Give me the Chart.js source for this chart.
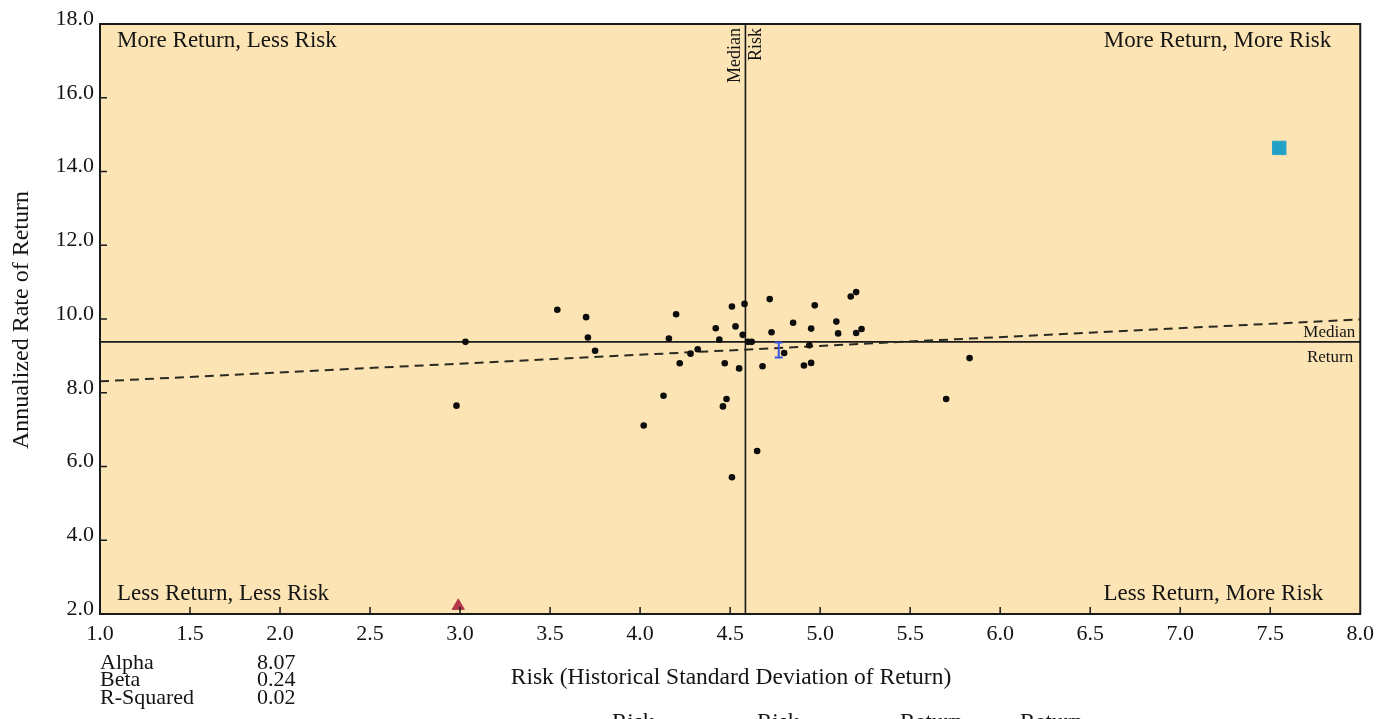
<!DOCTYPE html>
<html>
<head>
<meta charset="utf-8">
<script src="https://cdn.jsdelivr.net/npm/chart.js@4.4.1/dist/chart.umd.min.js"></script>
<style>
  html, body { margin: 0; padding: 0; background: #fff; }
  #wrap { width: 1381px; height: 719px; position: relative; overflow: hidden; }
</style>
</head>
<body>
<div id="wrap"><canvas id="chart" width="1381" height="719"></canvas></div>
<script>
// Manager points (risk, return)
const riskValues = [
  3.54, 3.70, 3.71, 3.75, 3.03, 2.98, 4.20, 4.16, 4.22, 4.28, 4.32, 4.13,
  4.02, 4.42, 4.44, 4.47, 4.51, 4.53, 4.58, 4.57, 4.60, 4.62, 4.55, 4.48,
  4.46, 4.65, 4.51, 4.72, 4.73, 4.68, 4.80, 4.85, 4.97, 4.95, 4.94, 4.91,
  4.95, 5.09, 5.10, 5.17, 5.20, 5.20, 5.23, 5.83, 5.70
];
const returnValues = [
  10.25, 10.05, 9.50, 9.14, 9.38, 7.65, 10.13, 9.47, 8.80, 9.06, 9.18, 7.92,
  7.11, 9.75, 9.44, 8.80, 10.34, 9.80, 10.41, 9.57, 9.38, 9.38, 8.66, 7.83,
  7.63, 6.42, 5.71, 10.54, 9.64, 8.72, 9.08, 9.90, 10.37, 9.74, 9.29, 8.74,
  8.81, 9.93, 9.61, 10.61, 10.73, 9.62, 9.73, 8.94, 7.83
];

// special markers
const squarePoint = [7.55, 14.64];
const trianglePoint = [2.99, 2.22];
const beamPoint = [4.77, 9.16];

// medians and regression line
const medianRisk = 4.585;
const medianReturn = 9.38;
const regressionX = [1.0, 8.0];
const regressionY = [8.31, 9.99];

const xTicks = [1.0, 1.5, 2.0, 2.5, 3.0, 3.5, 4.0, 4.5, 5.0, 5.5, 6.0, 6.5, 7.0, 7.5, 8.0];
const yTicks = [2, 4, 6, 8, 10, 12, 14, 16, 18];

const statLabels = ['Alpha', 'Beta', 'R-Squared'];
const statValues = ['8.07', '0.24', '0.02'];

const SERIF = '"Liberation Serif", "Times New Roman", serif';
const INK = '#141414';

// small blue I-beam marker
function makeBeam() {
  const c = document.createElement('canvas');
  c.width = 10; c.height = 18;
  const g = c.getContext('2d');
  g.strokeStyle = '#3a55e0';
  g.lineWidth = 2;
  g.beginPath();
  g.moveTo(5, 1); g.lineTo(5, 17);
  g.moveTo(1, 1.5); g.lineTo(9, 1.5);
  g.moveTo(1, 16.5); g.lineTo(9, 16.5);
  g.stroke();
  return c;
}

const quadrantPlugin = {
  id: 'quadrant',
  beforeDatasetsDraw(chart) {
    const { ctx, chartArea: a } = chart;
    ctx.save();
    ctx.fillStyle = '#fce4b4';
    ctx.fillRect(a.left, a.top, a.right - a.left, a.bottom - a.top);
    ctx.restore();
  },
  afterDraw(chart) {
    const { ctx, chartArea: a, scales } = chart;
    const xs = scales.x, ys = scales.y;
    ctx.save();

    // frame
    ctx.strokeStyle = '#1a1a1a';
    ctx.lineWidth = 2;
    ctx.strokeRect(a.left, a.top, a.right - a.left, a.bottom - a.top);

    // inner tick marks
    ctx.lineWidth = 1.5;
    ctx.beginPath();
    xTicks.slice(1, -1).forEach(v => {
      const px = xs.getPixelForValue(v);
      ctx.moveTo(px, a.bottom);
      ctx.lineTo(px, a.bottom - 7);
    });
    yTicks.slice(1, -1).forEach(v => {
      const py = ys.getPixelForValue(v);
      ctx.moveTo(a.left, py);
      ctx.lineTo(a.left + 7, py);
    });
    ctx.stroke();

    ctx.fillStyle = INK;

    // quadrant captions
    ctx.font = '23px ' + SERIF;
    ctx.textBaseline = 'middle';
    ctx.textAlign = 'left';
    ctx.fillText('More Return, Less Risk', a.left + 17, a.top + 17);
    ctx.fillText('Less Return, Less Risk', a.left + 17, a.bottom - 20);
    ctx.textAlign = 'right';
    ctx.fillText('More Return, More Risk', a.right - 29, a.top + 17);
    ctx.fillText('Less Return, More Risk', a.right - 37, a.bottom - 20);

    // median labels
    const mx = xs.getPixelForValue(medianRisk);
    const my = ys.getPixelForValue(medianReturn);
    ctx.font = '18px ' + SERIF;
    ctx.save();
    ctx.translate(mx, a.top + 4);
    ctx.rotate(-Math.PI / 2);
    ctx.textAlign = 'right';
    ctx.textBaseline = 'bottom';
    ctx.fillText('Median', 0, -1);
    ctx.textBaseline = 'top';
    ctx.fillText('Risk', 0, 2);
    ctx.restore();

    ctx.font = '17px ' + SERIF;
    ctx.textAlign = 'right';
    ctx.textBaseline = 'bottom';
    ctx.fillText('Median', a.right - 5, my - 1);
    ctx.textBaseline = 'top';
    ctx.fillText('Return', a.right - 7, my + 7);

    // axis titles
    ctx.font = '23.5px ' + SERIF;
    ctx.textAlign = 'center';
    ctx.textBaseline = 'middle';
    ctx.fillText('Risk (Historical Standard Deviation of Return)', 731, 678);
    ctx.save();
    ctx.font = '24px ' + SERIF;
    ctx.translate(22, 320);
    ctx.rotate(-Math.PI / 2);
    ctx.fillText('Annualized Rate of Return', 0, 0);
    ctx.restore();

    // stats block
    ctx.font = '22px ' + SERIF;
    ctx.textAlign = 'left';
    statLabels.forEach((s, i) => {
      ctx.fillText(s, 100, 663 + i * 17.5);
      ctx.fillText(statValues[i], 257, 663 + i * 17.5);
    });

    // cut-off legend header at the bottom edge
    ctx.font = '23px ' + SERIF;
    ctx.textBaseline = 'alphabetic';
    ctx.fillText('Risk', 612, 729);
    ctx.fillText('Risk', 757, 729);
    ctx.fillText('Return', 900, 729);
    ctx.fillText('Return', 1020, 729);

    ctx.restore();
  }
};

const managerPoints = riskValues.map((r, i) => ({ x: r, y: returnValues[i] }));

new Chart(document.getElementById('chart'), {
  type: 'scatter',
  data: {
    datasets: [
      {
        label: 'Managers',
        data: managerPoints,
        backgroundColor: '#0d0d0d',
        borderWidth: 0,
        pointRadius: 3.3,
        order: 1,
      },
      {
        label: 'Index',
        data: [{ x: squarePoint[0], y: squarePoint[1] }],
        pointStyle: 'rect',
        backgroundColor: '#22a0c6',
        borderColor: '#2aa6c8',
        borderWidth: 1,
        pointRadius: 9.5,
        order: 0,
      },
      {
        label: 'Benchmark',
        data: [{ x: trianglePoint[0], y: trianglePoint[1] }],
        pointStyle: 'triangle',
        backgroundColor: '#b3384a',
        borderColor: '#b3384a',
        borderWidth: 1,
        pointRadius: 7,
        order: 0,
      },
      {
        label: 'Fund',
        data: [{ x: beamPoint[0], y: beamPoint[1] }],
        pointStyle: makeBeam(),
        pointRadius: 9,
        order: 0,
      },
      {
        label: 'Regression',
        data: regressionX.map((x, i) => ({ x, y: regressionY[i] })),
        showLine: true,
        borderColor: '#2b2a22',
        borderWidth: 2,
        borderDash: [9, 6],
        pointRadius: 0,
        order: 3,
      },
      {
        label: 'Median Risk',
        data: [{ x: medianRisk, y: 2 }, { x: medianRisk, y: 18 }],
        showLine: true,
        borderColor: '#1a1a1a',
        borderWidth: 1.6,
        pointRadius: 0,
        order: 4,
      },
      {
        label: 'Median Return',
        data: [{ x: 1, y: medianReturn }, { x: 8, y: medianReturn }],
        showLine: true,
        borderColor: '#1a1a1a',
        borderWidth: 1.6,
        pointRadius: 0,
        order: 4,
      },
    ],
  },
  options: {
    responsive: false,
    animation: false,
    layout: { padding: { left: 0, right: 17, top: 24, bottom: 0 } },
    plugins: { legend: { display: false }, tooltip: { enabled: false } },
    scales: {
      x: {
        type: 'linear',
        min: 1, max: 8,
        afterBuildTicks: s => { s.ticks = xTicks.map(v => ({ value: v })); },
        afterFit: s => { s.height = 105; },
        grid: { display: false, drawTicks: false },
        border: { display: false },
        ticks: {
          padding: 7,
          color: INK,
          font: { family: SERIF, size: 22 },
          maxRotation: 0,
          autoSkip: false,
          callback: v => Number(v).toFixed(1),
        },
      },
      y: {
        type: 'linear',
        min: 2, max: 18,
        afterBuildTicks: s => { s.ticks = yTicks.map(v => ({ value: v })); },
        afterFit: s => { s.width = 100; },
        grid: { display: false, drawTicks: false },
        border: { display: false },
        ticks: {
          padding: 6,
          labelOffset: -5,
          color: INK,
          font: { family: SERIF, size: 22 },
          callback: v => Number(v).toFixed(1),
        },
      },
    },
  },
  plugins: [quadrantPlugin],
});
</script>
</body>
</html>
